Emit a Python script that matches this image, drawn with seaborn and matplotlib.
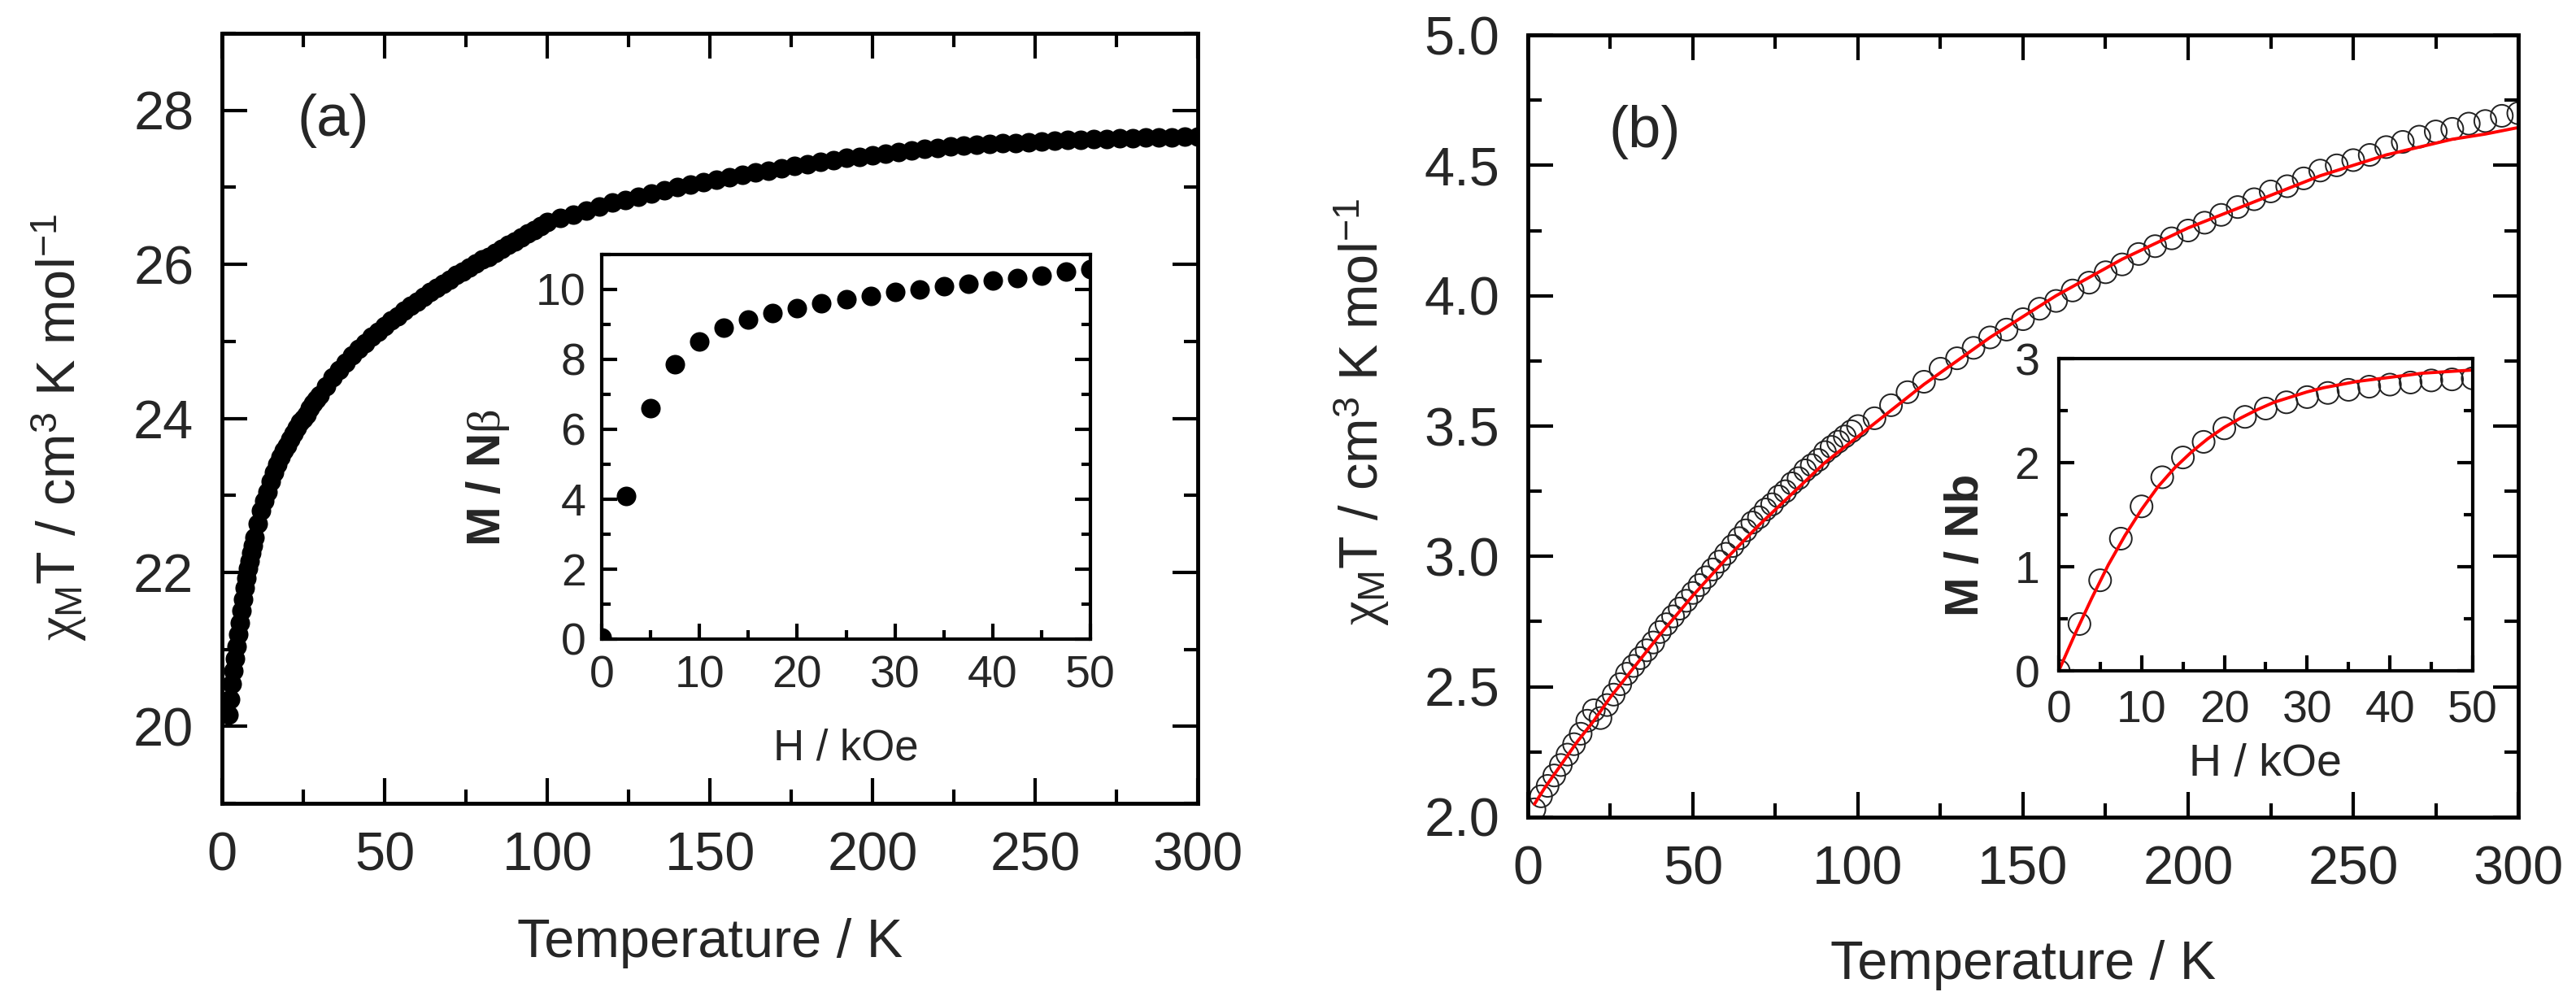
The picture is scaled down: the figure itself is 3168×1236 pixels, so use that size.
import matplotlib
matplotlib.use('Agg')
import matplotlib.pyplot as plt
from matplotlib.ticker import MultipleLocator, FormatStrFormatter
import seaborn as sns

# ---- panel (a): chi_M T vs T ----
temp_a = [2, 2.5, 3, 3.5, 4, 4.5, 5, 5.5, 6, 6.5, 7, 7.5, 8, 8.5, 9, 9.5, 10,
          11, 12, 13, 14, 15, 16, 17, 18, 19, 20, 21, 22, 23, 24, 25, 26, 27, 28, 29,
          30, 32, 34, 36, 38, 40, 42, 44, 46, 48, 50, 52, 54, 56, 58, 60, 62, 64, 66, 68,
          70, 72, 74, 76, 78, 80, 82, 84, 86, 88, 90, 92, 94, 96, 98, 100,
          104, 108, 112, 116, 120, 124, 128, 132, 136, 140, 144, 148, 152, 156, 160,
          164, 168, 172, 176, 180, 184, 188, 192, 196, 200, 204, 208, 212, 216, 220,
          224, 228, 232, 236, 240, 244, 248, 252, 256, 260, 264, 268, 272, 276, 280,
          284, 288, 292, 296, 300]
chiT_a = [20.15, 20.35, 20.55, 20.72, 20.88, 21.04, 21.2, 21.35, 21.5, 21.65, 21.8, 21.93,
          22.05, 22.15, 22.25, 22.35, 22.45,
          22.63, 22.8, 22.93, 23.05, 23.18, 23.3, 23.4, 23.5, 23.58, 23.65, 23.73, 23.8,
          23.88, 23.95, 24.0, 24.05, 24.13, 24.2, 24.25,
          24.3, 24.42, 24.53, 24.63, 24.72, 24.82, 24.9, 24.98, 25.06, 25.13, 25.2, 25.27, 25.33,
          25.4, 25.46, 25.52, 25.58, 25.64, 25.7, 25.75,
          25.8, 25.86, 25.91, 25.96, 26.01, 26.06, 26.1, 26.15, 26.2, 26.25, 26.3, 26.35, 26.4,
          26.45, 26.5, 26.55,
          26.6, 26.65, 26.7, 26.75, 26.8, 26.84, 26.88, 26.92, 26.96, 27.0, 27.04, 27.07, 27.1,
          27.13, 27.16,
          27.19, 27.22, 27.25, 27.28, 27.3, 27.33, 27.35, 27.38, 27.4, 27.42, 27.44, 27.46, 27.48,
          27.5, 27.51,
          27.53, 27.54, 27.55, 27.56, 27.57, 27.58, 27.59, 27.6, 27.61, 27.62, 27.62, 27.63, 27.63,
          27.64, 27.64,
          27.65, 27.65, 27.65, 27.66, 27.66]

# inset (a): M vs H
field_a = [0, 2.5, 5, 7.5, 10, 12.5, 15, 17.5, 20, 22.5, 25, 27.5, 30, 32.5, 35, 37.5,
           40, 42.5, 45, 47.5, 50]
mag_a = [0.05, 4.1, 6.6, 7.85, 8.5, 8.9, 9.15, 9.33, 9.47, 9.6, 9.72, 9.82, 9.92, 10.0,
         10.1, 10.17, 10.25, 10.33, 10.4, 10.5, 10.58]

# ---- panel (b): chi_M T vs T, data and fit ----
temp_b = [2, 4, 6, 8, 10, 12, 14, 16, 18, 20, 22, 24, 26, 28, 30, 32, 34, 36, 38, 40,
          42, 44, 46, 48, 50, 52, 54, 56, 58, 60, 62, 64, 66, 68, 70, 72, 74, 76, 78, 80,
          82, 84, 86, 88, 90, 92, 94, 96, 98, 100,
          105, 110, 115, 120, 125, 130, 135, 140, 145, 150, 155, 160, 165, 170, 175, 180,
          185, 190, 195, 200, 205, 210, 215, 220, 225, 230, 235, 240, 245, 250, 255, 260,
          265, 270, 275, 280, 285, 290, 295, 300]
chiT_b = [2.03, 2.08, 2.12, 2.16, 2.2, 2.24, 2.28, 2.32, 2.37, 2.41, 2.38, 2.43, 2.47, 2.51,
          2.55, 2.58, 2.61, 2.64, 2.67, 2.71,
          2.74, 2.77, 2.8, 2.83, 2.86, 2.89, 2.92, 2.95, 2.98, 3.01, 3.04, 3.07, 3.1, 3.13,
          3.15, 3.18, 3.2, 3.23, 3.25, 3.28,
          3.3, 3.33, 3.35, 3.37, 3.4, 3.42, 3.44, 3.46, 3.48, 3.5,
          3.53, 3.58, 3.63, 3.67, 3.72, 3.76, 3.8, 3.84, 3.87, 3.91, 3.95, 3.98, 4.02, 4.05,
          4.09, 4.12,
          4.16, 4.19, 4.22, 4.25, 4.28, 4.31, 4.34, 4.37, 4.4, 4.42, 4.45, 4.48, 4.5, 4.52,
          4.54, 4.57,
          4.59, 4.61, 4.63, 4.64, 4.66, 4.67, 4.69, 4.7]
temp_fit_b = [2, 5, 10, 15, 20, 25, 30, 40, 50, 60, 70, 80, 90, 100, 110, 120, 130, 140,
              150, 160, 170, 180, 190, 200, 210, 220, 230, 240, 250, 260, 270, 280, 290, 300]
chiT_fit_b = [2.05, 2.11, 2.2, 2.29, 2.37, 2.46, 2.54, 2.7, 2.85, 2.99, 3.12, 3.24, 3.36,
              3.46, 3.56, 3.66, 3.75, 3.84, 3.92, 4.0, 4.07, 4.14, 4.2, 4.26, 4.31, 4.36,
              4.41, 4.46, 4.5, 4.54, 4.57, 4.6, 4.62, 4.645]

# inset (b): M vs H, data and fit
field_b = [0, 2.5, 5, 7.5, 10, 12.5, 15, 17.5, 20, 22.5, 25, 27.5, 30, 32.5, 35, 37.5,
           40, 42.5, 45, 47.5, 50]
mag_b = [0.0, 0.45, 0.87, 1.27, 1.58, 1.86, 2.05, 2.2, 2.33, 2.44, 2.52, 2.58, 2.63, 2.67,
         2.7, 2.73, 2.75, 2.77, 2.79, 2.8, 2.81]
field_fit_b = [0, 2, 4, 6, 8, 10, 12, 14, 16, 18, 20, 22, 24, 26, 28, 30, 32, 34, 36, 38,
               40, 42, 44, 46, 48, 50]
mag_fit_b = [0, 0.36, 0.7, 1.02, 1.3, 1.55, 1.77, 1.95, 2.1, 2.23, 2.34, 2.43, 2.51, 2.58,
             2.63, 2.68, 2.72, 2.75, 2.78, 2.8, 2.82, 2.84, 2.86, 2.87, 2.88, 2.89]

sns.set_style('ticks')
plt.rcParams['font.family'] = ['Liberation Sans', 'DejaVu Sans']
plt.rcParams['mathtext.fontset'] = 'custom'
plt.rcParams['mathtext.rm'] = 'Liberation Sans'
plt.rcParams['mathtext.it'] = 'Liberation Serif'
plt.rcParams['mathtext.bf'] = 'Liberation Sans:bold'

fig = plt.figure(figsize=(31.68, 12.36), dpi=100)
ax_a = fig.add_axes([0.0862, 0.2006, 0.3788, 0.7662])
ax_b = fig.add_axes([0.5931, 0.1869, 0.3845, 0.7783])
ins_a = fig.add_axes([0.2336, 0.3641, 0.1897, 0.3827])
ins_b = fig.add_axes([0.7992, 0.3325, 0.1607, 0.3107])


def style(ax, xmaj, xmin, ymaj, ymin, fs, pad, big=True, top=True):
    for sp in ax.spines.values():
        sp.set_linewidth(3.5 if big else 3)
        sp.set_color('black')
        sp.set_visible(True)
    ax.xaxis.set_major_locator(MultipleLocator(xmaj))
    ax.xaxis.set_minor_locator(MultipleLocator(xmin))
    ax.yaxis.set_major_locator(MultipleLocator(ymaj))
    ax.yaxis.set_minor_locator(MultipleLocator(ymin))
    ax.tick_params(which='both', direction='in', top=top, right=True, width=3,
                   labelsize=fs, pad=pad, color='black')
    ax.tick_params(which='major', length=22 if big else 14)
    ax.tick_params(which='minor', length=12 if big else 8)


ylab = r'$\chi_\mathrm{M}$T / cm$^3$ K mol$^{-1}$'

# panel (a)
sns.scatterplot(x=temp_a, y=chiT_a, ax=ax_a, color='black', s=300, linewidth=0)
ax_a.set_xlim(0, 300)
ax_a.set_ylim(19, 29)
style(ax_a, 50, 25, 2, 1, 48, 25)
ax_a.set_xlabel('Temperature / K', fontsize=48, va='center')
ax_a.xaxis.set_label_coords(0.5, -0.182)
ax_a.set_ylabel(ylab, fontsize=48, va='center')
ax_a.yaxis.set_label_coords(-0.167, 0.489)
ax_a.text(0.114, 0.887, '(a)', transform=ax_a.transAxes, fontsize=52,
          ha='center', va='center')

sns.scatterplot(x=field_a, y=mag_a, ax=ins_a, color='black', s=300, linewidth=0)
ins_a.set_xlim(0, 50)
ins_a.set_ylim(0, 11)
style(ins_a, 10, 5, 2, 1, 40, 14, big=False, top=False)
ins_a.set_xlabel('H / kOe', fontsize=38, va='center')
ins_a.xaxis.set_label_coords(0.5, -0.285)
ins_a.set_ylabel(r'M / N$\beta$', fontsize=42, fontweight='bold', va='center')
ins_a.yaxis.set_label_coords(-0.233, 0.42)

# panel (b)
sns.scatterplot(x=temp_b, y=chiT_b, ax=ax_b, s=380, facecolor='none',
                edgecolor='#222222', linewidth=1.4)
sns.lineplot(x=temp_fit_b, y=chiT_fit_b, ax=ax_b, color='red', linewidth=2.8,
             sort=False, estimator=None)
ax_b.set_xlim(0, 300)
ax_b.set_ylim(2.0, 5.0)
style(ax_b, 50, 25, 0.5, 0.25, 48, 25)
ax_b.yaxis.set_major_formatter(FormatStrFormatter('%.1f'))
ax_b.set_xlabel('Temperature / K', fontsize=48, va='center')
ax_b.xaxis.set_label_coords(0.5, -0.189)
ax_b.set_ylabel(ylab, fontsize=48, va='center')
ax_b.yaxis.set_label_coords(-0.1675, 0.518)
ax_b.text(0.118, 0.876, '(b)', transform=ax_b.transAxes, fontsize=52,
          ha='center', va='center')

sns.scatterplot(x=field_b, y=mag_b, ax=ins_b, s=380, facecolor='none',
                edgecolor='#222222', linewidth=1.4)
sns.lineplot(x=field_fit_b, y=mag_fit_b, ax=ins_b, color='red', linewidth=2.8,
             sort=False, estimator=None)
ins_b.set_xlim(0, 50)
ins_b.set_ylim(0, 3)
style(ins_b, 10, 5, 1, 0.5, 40, 17, big=False, top=False)
ins_b.set_xlabel('H / kOe', fontsize=40, va='center')
ins_b.xaxis.set_label_coords(0.5, -0.30)
ins_b.set_ylabel('M / Nb', fontsize=42, fontweight='bold', va='center')
ins_b.yaxis.set_label_coords(-0.224, 0.404)

fig.savefig('out.png', dpi=100)
